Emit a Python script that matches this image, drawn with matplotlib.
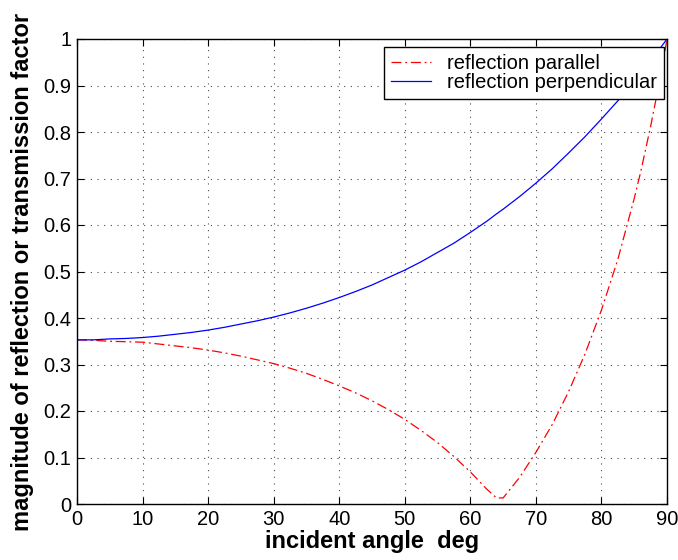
import matplotlib
matplotlib.use('Agg')
import matplotlib.pyplot as plt

plt.rcParams['font.family'] = ['Liberation Sans', 'DejaVu Sans']

# incident angle (deg)
angle = [0, 2.5, 5, 7.5, 10, 12.5, 15, 17.5, 20, 22.5, 25, 27.5, 30, 32.5, 35,
         37.5, 40, 42.5, 45, 47.5, 50, 52.5, 55, 57.5, 60, 62.5, 64, 65, 67.5,
         70, 72.5, 75, 77.5, 80, 82.5, 85, 86, 87.5, 88.5, 89, 90]

# magnitude of reflection, perpendicular polarisation
r_perp = [0.353, 0.353, 0.355, 0.356, 0.358, 0.361, 0.365, 0.369, 0.374, 0.380,
          0.387, 0.394, 0.402, 0.411, 0.421, 0.432, 0.444, 0.457, 0.471, 0.487,
          0.503, 0.521, 0.541, 0.561, 0.584, 0.608, 0.624, 0.634, 0.661, 0.690,
          0.721, 0.755, 0.790, 0.828, 0.867, 0.909, 0.927, 0.954, 0.972, 0.981,
          1.0]

# magnitude of reflection, parallel polarisation
r_par = [0.353, 0.352, 0.350, 0.349, 0.348, 0.344, 0.340, 0.336, 0.331, 0.325,
         0.318, 0.310, 0.302, 0.292, 0.281, 0.268, 0.254, 0.239, 0.222, 0.203,
         0.182, 0.158, 0.132, 0.102, 0.069, 0.032, 0.013, 0.013, 0.057, 0.111,
         0.171, 0.242, 0.323, 0.417, 0.526, 0.657, 0.715, 0.812, 0.883, 0.920,
         1.0]

fig = plt.figure(figsize=(6.78, 5.6), dpi=100)
ax = fig.add_axes([77/678, 1 - 504/560, 590/678, 465/560])

ax.plot(angle, r_par, color='red', linestyle=(0, (8, 3, 1.5, 3)), linewidth=0.9,
        label='reflection parallel')
ax.plot(angle, r_perp, color='blue', linestyle='-', linewidth=0.9,
        label='reflection perpendicular')

ax.set_xlim(0, 90)
ax.set_ylim(0, 1)
ax.set_xticks(range(0, 91, 10))
ax.set_yticks([i / 10 for i in range(11)])
ax.set_yticklabels(['0', '0.1', '0.2', '0.3', '0.4', '0.5', '0.6', '0.7',
                    '0.8', '0.9', '1'])
ax.grid(True, color='black', linestyle=(0, (1, 5)), linewidth=0.8, alpha=0.7)
ax.tick_params(direction='in', top=True, right=True, length=5, width=0.8,
               labelsize=14.5, pad=4)
for s in ax.spines.values():
    s.set_linewidth(1.0)

ax.set_xlabel('incident angle  deg', fontsize=17, fontweight='bold', labelpad=1)
ax.set_ylabel('magnitude of reflection or transmission factor', fontsize=17,
              fontweight='bold', labelpad=7)

leg = ax.legend(loc='upper right', bbox_to_anchor=(0.9949, 0.9828),
                fontsize=14.5, fancybox=False, framealpha=1,
                edgecolor='black', borderaxespad=0, handlelength=2.0,
                borderpad=0.35, labelspacing=0.0, handletextpad=0.8)
leg.get_frame().set_linewidth(1.0)

fig.savefig('out.png', dpi=100)
